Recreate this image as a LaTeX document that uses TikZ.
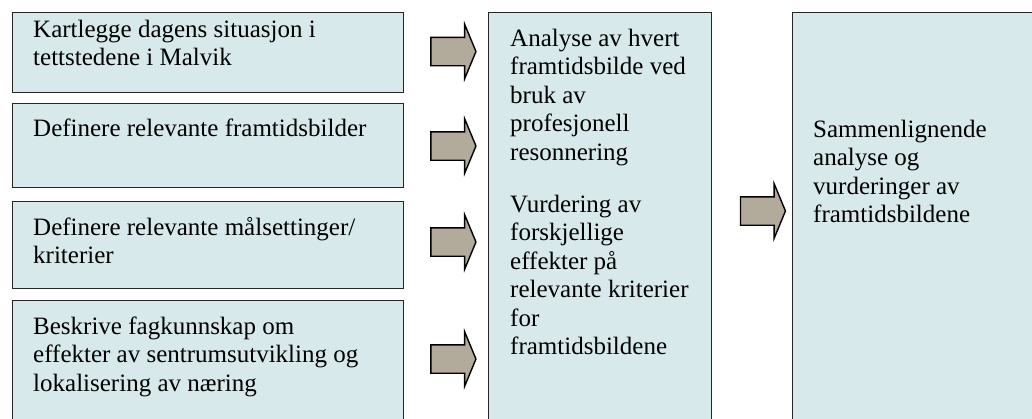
\documentclass[tikz,border=0pt]{standalone}
\usepackage{fontspec}
\setmainfont{Liberation Serif}
\usetikzlibrary{shapes.arrows}
\definecolor{boksblaa}{RGB}{216,233,236}
\definecolor{pilgraa}{RGB}{178,170,155}

\begin{document}
\begin{tikzpicture}[x=1pt,y=-1pt,
    boks/.style={draw=black!85,line width=1.4pt,fill=boksblaa,anchor=north west,inner sep=0pt},
    tekst/.style={anchor=base west,align=left,inner sep=0pt,font=\fontsize{25}{28.5}\selectfont},
    pil/.style={single arrow,draw=black,line width=1.4pt,fill=pilgraa,minimum height=45pt,minimum width=53pt,
        single arrow head extend=13pt,single arrow tip angle=135,inner xsep=0pt,inner ysep=13.5pt}]
    \useasboundingbox (0,0) rectangle (1032,418);
    \clip (0,0) rectangle (1032,418);
    \node[boks,minimum width=391pt,minimum height=80pt] (kartlegge) at (12,12) {};
    \node[boks,minimum width=391pt,minimum height=84pt] (definere) at (12,103) {};
    \node[boks,minimum width=391pt,minimum height=87pt] (maal) at (12,201) {};
    \node[boks,minimum width=391pt,minimum height=130pt] (fagkunnskap) at (12,300) {};
    \node[boks,minimum width=223pt,minimum height=420pt] (analyse) at (488,12) {};
    \node[boks,minimum width=260pt,minimum height=420pt] (sammenligning) at (792,12) {};
    \node[tekst] (kartleggetekst) at (33,65.5) {Kartlegge dagens situasjon i\\tettstedene i Malvik};
    \node[tekst] (defineretekst) at (33,136) {Definere relevante framtidsbilder};
    \node[tekst] (maaltekst) at (33,263.5) {Definere relevante målsettinger/\\kriterier};
    \node[tekst] (fagtekst) at (33,391) {Beskrive fagkunnskap om\\effekter av sentrumsutvikling og\\lokalisering av næring};
    \node[tekst] (analysetekst) at (510,160) {Analyse av hvert\\framtidsbilde ved\\bruk av\\profesjonell\\resonnering};
    \node[tekst] (vurderingtekst) at (510,354.5) {Vurdering av\\forskjellige\\effekter på\\relevante kriterier\\for\\framtidsbildene};
    \node[tekst] (sammentekst) at (813,222.5) {Sammenlignende\\analyse og\\vurderinger av\\framtidsbildene};
    \node[pil] (pil1) at (450.5,51.5) {};
    \node[pil] (pil2) at (450.5,146) {};
    \node[pil] (pil3) at (450.5,242) {};
    \node[pil] (pil4) at (450.5,359) {};
    \node[pil] (pil5) at (760,211) {};
\end{tikzpicture}
\end{document}
